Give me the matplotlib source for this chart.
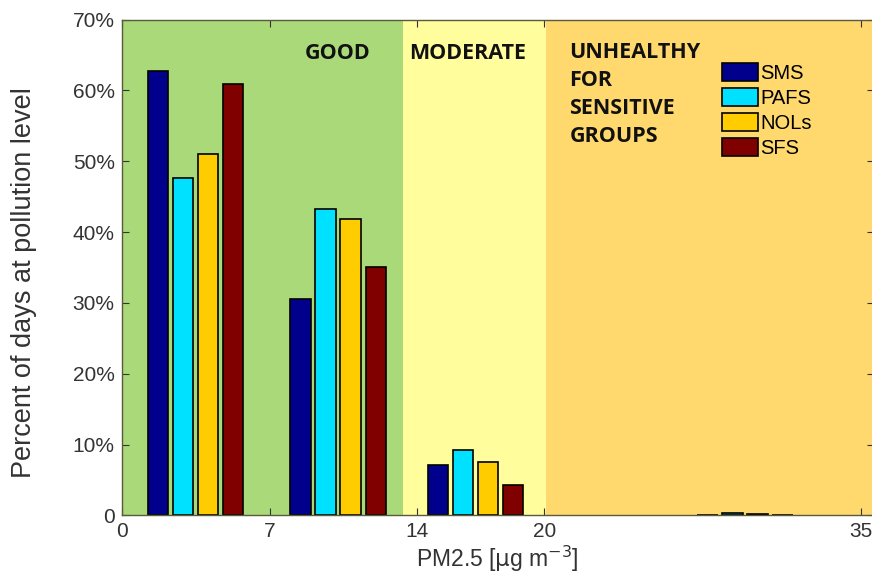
import numpy as np
import matplotlib
matplotlib.use('Agg')
import matplotlib.pyplot as plt
from matplotlib.ticker import FixedLocator

# PM2.5 bins (bar group centres) and share of days per program
bin_centres = [3.5, 10.25, 16.75, 29.5]
sms = [62.8, 30.6, 7.1, 0.1]
pafs = [47.6, 43.2, 9.25, 0.4]
nols = [51.0, 41.8, 7.5, 0.15]
sfs = [60.9, 35.1, 4.35, 0.1]
programs = ['SMS', 'PAFS', 'NOLs', 'SFS']

# air quality levels: (start, end, label)
levels = [(0, 13.3, 'GOOD'), (13.3, 20.1, 'MODERATE'), (20.1, 36, 'UNHEALTHY\nFOR\nSENSITIVE\nGROUPS')]
level_colors = ['#aad97a', '#fffd9c', '#ffd96e']
bar_colors = ['#00008c', '#00e0ff', '#ffcc00', '#800000']

fig = plt.figure(figsize=(8.72, 5.75), dpi=100)
ax = fig.add_axes([0.1395, 0.1035, 0.8625, 0.8625])

for (a, b, nm), c in zip(levels, level_colors):
    ax.axvspan(a, b, color=c, zorder=0, lw=0)

offsets = [-1.78, -0.59, 0.59, 1.78]
for vals, off, col, nm in zip([sms, pafs, nols, sfs], offsets, bar_colors, programs):
    ax.bar(np.array(bin_centres) + off, vals, width=0.97, color=col,
           edgecolor='black', linewidth=1.2, label=nm, zorder=2)

lvl_font = dict(fontsize=15.5, fontweight='bold', family='Open Sans', color='#111111')
ax.text(11.8, 65.2, 'GOOD', ha='right', va='center', **lvl_font)
ax.text(13.6, 65.2, 'MODERATE', ha='left', va='center', **lvl_font)
ax.text(21.2, 66.9, 'UNHEALTHY\nFOR\nSENSITIVE\nGROUPS', ha='left', va='top',
        linespacing=1.45, **lvl_font)

ax.set_xlim(0, 35.6)
ax.set_ylim(0, 70)
ax.xaxis.set_major_locator(FixedLocator([0, 7, 14, 20, 35]))
ax.set_yticks(range(0, 71, 10))
ax.set_yticklabels(['0'] + ['%d%%' % v for v in range(10, 71, 10)])
ax.tick_params(direction='in', length=5, labelsize=15, colors='#333333',
               top=True, right=True, pad=5)
for lab in ax.get_xticklabels() + ax.get_yticklabels():
    lab.set_family('Liberation Sans')
for s in ax.spines.values():
    s.set_color('#5a5a3a')
    s.set_linewidth(1.0)

ax.set_xlabel('PM2.5 [$\\mathrm{\\mu}$g m$^{-3}$]', fontsize=16.5,
              family='Liberation Sans', color='#333333', labelpad=2)
ax.set_ylabel('Percent of days at pollution level', fontsize=19.5,
              family='Liberation Sans', color='#333333')
ax.yaxis.set_label_coords(-0.113, 0.469)

ax.legend(loc='upper left', bbox_to_anchor=(0.785, 0.932), frameon=False,
          prop={'family': 'Liberation Sans', 'size': 14.5},
          handlelength=1.8, handleheight=1.0, handletextpad=0.1,
          labelspacing=0.25, borderpad=0)

fig.savefig('out.png', dpi=100)
